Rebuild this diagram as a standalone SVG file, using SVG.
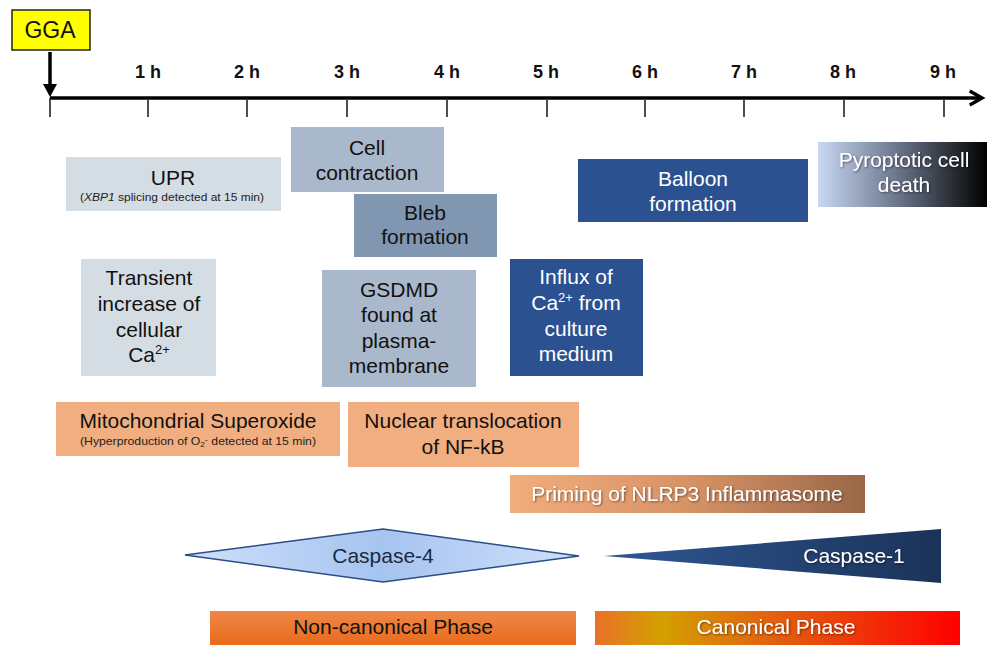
<svg xmlns="http://www.w3.org/2000/svg" width="987" height="645" viewBox="0 0 987 645">
<defs>
<style>
text{font-family:"Liberation Sans",Arial,sans-serif;text-anchor:middle}
.tl{font-size:18px;font-weight:bold;fill:#111}
.t{font-size:21px;fill:#111}
.w{font-size:21px;fill:#fff}
.s{font-size:10.5px;fill:#222}
.tick{stroke:#222;stroke-width:1.6}
</style>
<linearGradient id="gPyro" x1="0" y1="0" x2="1" y2="0"><stop offset="0" stop-color="#c8d8f4"/><stop offset="0.45" stop-color="#6f7a90"/><stop offset="1" stop-color="#000"/></linearGradient>
<linearGradient id="gPrim" x1="0" y1="0" x2="1" y2="0"><stop offset="0" stop-color="#f3ad7c"/><stop offset="0.5" stop-color="#d79366"/><stop offset="1" stop-color="#9a6848"/></linearGradient>
<linearGradient id="gC4" x1="0" y1="0" x2="1" y2="0"><stop offset="0" stop-color="#cfe0fa"/><stop offset="0.5" stop-color="#a6c4f0"/><stop offset="1" stop-color="#cfe0fa"/></linearGradient>
<linearGradient id="gC1" x1="0" y1="0" x2="1" y2="0"><stop offset="0" stop-color="#2e5896"/><stop offset="1" stop-color="#1b3358"/></linearGradient>
<linearGradient id="gNon" x1="0" y1="0" x2="0" y2="1"><stop offset="0" stop-color="#f08848"/><stop offset="1" stop-color="#e86818"/></linearGradient>
<linearGradient id="gCan" x1="0" y1="0" x2="1" y2="0"><stop offset="0" stop-color="#e87028"/><stop offset="0.18" stop-color="#d4a000"/><stop offset="0.45" stop-color="#e06810"/><stop offset="1" stop-color="#ff0000"/></linearGradient>
<filter id="sh" x="-5%" y="-20%" width="110%" height="140%"><feDropShadow dx="1" dy="1" stdDeviation="0.8" flood-color="#000" flood-opacity="0.5"/></filter>
<marker id="ah" viewBox="0 0 10 10" refX="8" refY="5" markerWidth="5" markerHeight="5" orient="auto"><path d="M1,1 L8,5 L1,9" fill="none" stroke="#000" stroke-width="2"/></marker>
</defs>

<g id="axis">
<line x1="50" y1="98" x2="982" y2="98" stroke="#000" stroke-width="3.5" marker-end="url(#ah)"/>
<line class="tick" x1="50" y1="98" x2="50" y2="117"/>
<line class="tick" x1="148" y1="98" x2="148" y2="117"/>
<line class="tick" x1="247" y1="98" x2="247" y2="117"/>
<line class="tick" x1="347" y1="98" x2="347" y2="117"/>
<line class="tick" x1="447" y1="98" x2="447" y2="117"/>
<line class="tick" x1="547" y1="98" x2="547" y2="117"/>
<line class="tick" x1="645" y1="98" x2="645" y2="117"/>
<line class="tick" x1="744" y1="98" x2="744" y2="117"/>
<line class="tick" x1="844" y1="98" x2="844" y2="117"/>
<line class="tick" x1="944" y1="98" x2="944" y2="117"/>
<text class="tl" x="148" y="78">1 h</text>
<text class="tl" x="247" y="78">2 h</text>
<text class="tl" x="347" y="78">3 h</text>
<text class="tl" x="447" y="78">4 h</text>
<text class="tl" x="546" y="78">5 h</text>
<text class="tl" x="645" y="78">6 h</text>
<text class="tl" x="744" y="78">7 h</text>
<text class="tl" x="843" y="78">8 h</text>
<text class="tl" x="943" y="78">9 h</text>
</g>

<g id="gga">
<rect x="12" y="10" width="78" height="40" fill="#ffff00" stroke="#222" stroke-width="1.5"/>
<text x="50" y="38" style="font-size:23px;fill:#111">GGA</text>
</g>

<g id="connectors">
<line x1="50" y1="52" x2="50" y2="86" stroke="#000" stroke-width="3.5"/>
<path d="M43,84 L57,84 L50,97 Z" fill="#000"/>
</g>

<g id="upr">
<rect x="66" y="157" width="215" height="54" fill="#d5dde4"/>
<text class="t" x="173" y="185">UPR</text>
<text class="s" x="172" y="201" textLength="184" lengthAdjust="spacingAndGlyphs">(<tspan font-style="italic">XBP1</tspan> splicing detected at 15 min)</text>
</g>

<g id="cell-contraction">
<rect x="291" y="127" width="153" height="65" fill="#a9b8ca"/>
<text class="t" x="367" y="155">Cell</text>
<text class="t" x="367" y="180">contraction</text>
</g>

<g id="bleb">
<rect x="354" y="194" width="143" height="63" fill="#8196b1"/>
<text class="t" x="425" y="220">Bleb</text>
<text class="t" x="425" y="244">formation</text>
</g>

<g id="transient">
<rect x="81" y="259" width="135" height="117" fill="#d5dde4"/>
<text class="t" x="149" y="285">Transient</text>
<text class="t" x="149" y="311">increase of</text>
<text class="t" x="149" y="337">cellular</text>
<text class="t" x="149" y="362">Ca<tspan font-size="13" dy="-8">2+</tspan></text>
</g>

<g id="gsdmd">
<rect x="322" y="270" width="154" height="117" fill="#a9b8ca"/>
<text class="t" x="399" y="297">GSDMD</text>
<text class="t" x="399" y="322">found at</text>
<text class="t" x="399" y="348">plasma-</text>
<text class="t" x="399" y="373">membrane</text>
</g>

<g id="influx">
<rect x="510" y="259" width="133" height="117" fill="#2b5191"/>
<text class="w" x="576" y="284">Influx of</text>
<text class="w" x="576" y="310">Ca<tspan font-size="13" dy="-8">2+</tspan><tspan dy="8"> from</tspan></text>
<text class="w" x="576" y="336">culture</text>
<text class="w" x="576" y="361">medium</text>
</g>

<g id="balloon">
<rect x="578" y="159" width="230" height="63" fill="#2b5191"/>
<text class="w" x="693" y="186">Balloon</text>
<text class="w" x="693" y="211">formation</text>
</g>

<g id="pyroptotic">
<rect x="818" y="142" width="169" height="65" fill="url(#gPyro)"/>
<text class="w" x="904" y="167" filter="url(#sh)">Pyroptotic cell</text>
<text class="w" x="904" y="192" filter="url(#sh)">death</text>
</g>

<g id="mito">
<rect x="56" y="402" width="284" height="54" fill="#f1ae80"/>
<text class="t" x="198" y="428">Mitochondrial Superoxide</text>
<text class="s" x="198" y="445" textLength="236" lengthAdjust="spacingAndGlyphs">(Hyperproduction of O<tspan font-size="7" dy="2">2</tspan><tspan font-size="8" dy="-5">-</tspan><tspan dy="3"> detected at 15 min)</tspan></text>
</g>

<g id="nfkb">
<rect x="348" y="402" width="231" height="65" fill="#f1ae80"/>
<text class="t" x="463" y="428">Nuclear translocation</text>
<text class="t" x="463" y="454">of NF-kB</text>
</g>

<g id="priming">
<rect x="510" y="475" width="355" height="38" fill="url(#gPrim)"/>
<text class="w" x="687" y="501" filter="url(#sh)">Priming of NLRP3 Inflammasome</text>
</g>

<g id="caspase4">
<polygon points="185,555 383,529 579,556 383,582" fill="url(#gC4)" stroke="#2b4d86" stroke-width="1.5"/>
<text x="383" y="563" style="font-size:21px;fill:#1a2a40">Caspase-4</text>
</g>

<g id="caspase1">
<polygon points="604,556 941,529 941,583" fill="url(#gC1)"/>
<text class="w" x="854" y="563" filter="url(#sh)">Caspase-1</text>
</g>

<g id="noncanonical">
<rect x="210" y="611" width="366" height="36" fill="url(#gNon)"/>
<text x="393" y="634" style="font-size:21px;fill:#111">Non-canonical Phase</text>
</g>

<g id="canonical">
<rect x="595" y="611" width="365" height="36" fill="url(#gCan)"/>
<text class="w" x="776" y="634" filter="url(#sh)">Canonical Phase</text>
</g>
</svg>
